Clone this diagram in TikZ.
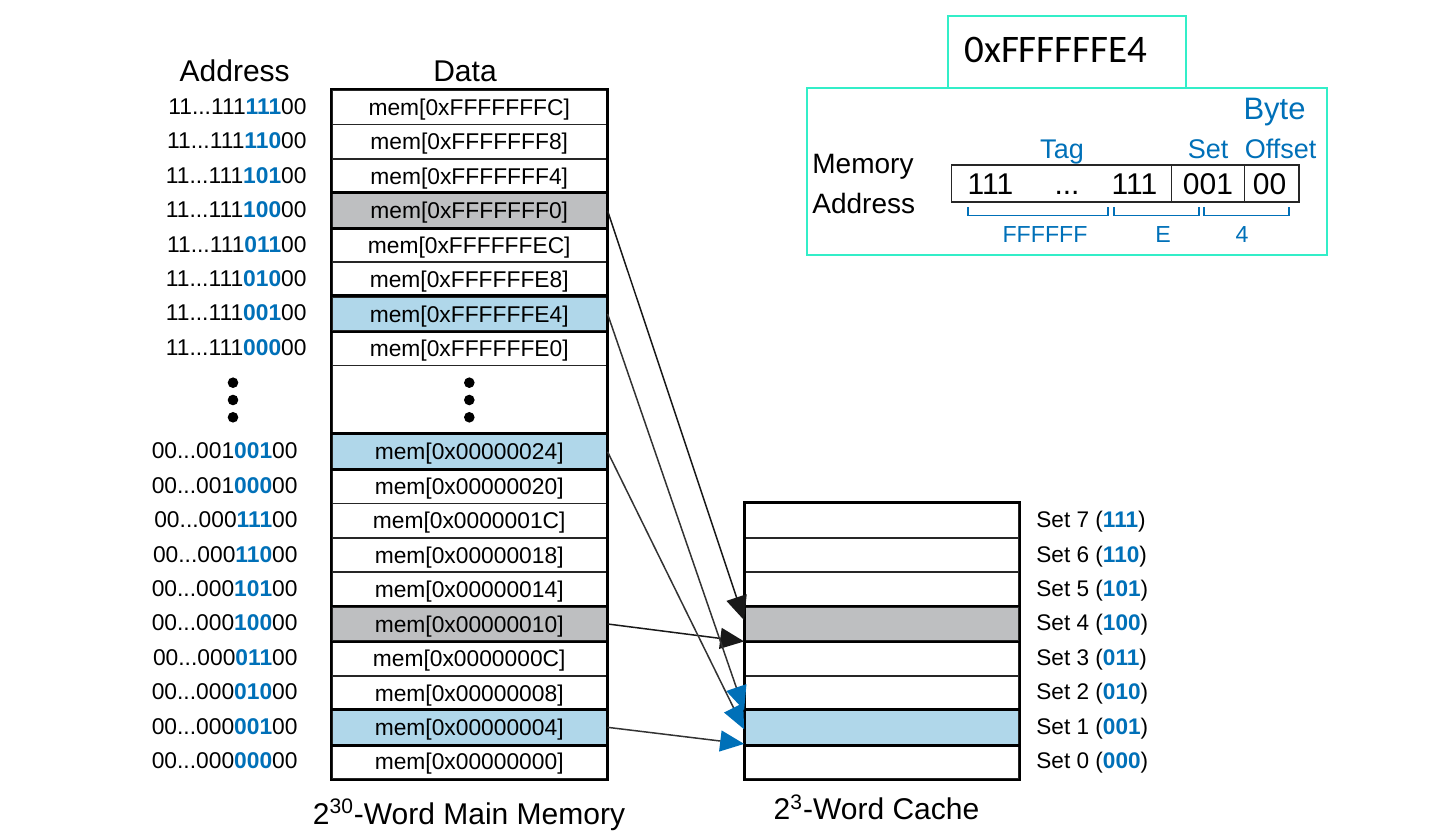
\documentclass[tikz,border=0pt]{standalone}
\usepackage{fontspec}
\setmainfont{Liberation Sans}
\newfontfamily\carlitofont{Carlito}
\usetikzlibrary{arrows.meta,calc}
\definecolor{tblue}{RGB}{0,112,184}
\definecolor{lblue}{RGB}{176,215,234}
\definecolor{lgray}{RGB}{190,191,193}
\definecolor{turq}{RGB}{50,238,200}
\newcommand{\bl}[1]{\textcolor{tblue}{\textbf{#1}}}
\begin{document}
\begin{tikzpicture}[x=0.5pt,y=-0.5pt,
  memrow/.style={draw=black!85, line width=0.85pt, minimum width=137.5pt, minimum height=17.225pt,
    inner sep=0pt, text height=8.2pt, text depth=0pt, font=\fontsize{11.4}{13}\selectfont},
  hirow/.style={line width=1.35pt},
  addr/.style={anchor=base east, inner sep=0pt, font=\fontsize{11.4}{13}\selectfont},
  setlab/.style={anchor=base west, inner sep=0pt, font=\fontsize{11.3}{13}\selectfont},
  head/.style={anchor=base, inner sep=0pt, font=\fontsize{15}{17}\selectfont},
  bits/.style={anchor=base, inner sep=0pt, font=\fontsize{15}{17}\selectfont},
  fieldlab/.style={anchor=base, inner sep=0pt, text=tblue, font=\fontsize{13.5}{15}\selectfont},
  sublab/.style={anchor=base, inner sep=0pt, text=tblue, font=\fontsize{11.6}{13}\selectfont},
  fieldbox/.style={draw=black!85, line width=0.75pt, minimum height=18.5pt, inner sep=0pt},
  tealbox/.style={draw=turq, line width=0.85pt, inner sep=0pt},
  blkarrow/.style={draw=black!90, line width=0.75pt, -{Triangle[length=12pt,width=10.5pt]}},
  bluarrow/.style={draw=black!80, line width=0.75pt, -{Triangle[length=12pt,width=10.5pt,color=tblue]}},
  brk/.style={draw=tblue, line width=0.85pt}
]
\useasboundingbox (0,0) rectangle (1450,833);

% headers
\node[head] (hAddr) at (234.7,81.7) {Address};
\node[head] (hData) at (465,81.7) {Data};

% top half of main memory
\foreach \i/\hx/\b/\f in {0/FFFFFFFC/111/none,1/FFFFFFF8/110/none,2/FFFFFFF4/101/none,3/FFFFFFF0/100/lgray,
  4/FFFFFFEC/011/none,5/FFFFFFE8/010/none,6/FFFFFFE4/001/lblue,7/FFFFFFE0/000/none}{
  \node[memrow, fill=\f] (m\i) at (469.2,{90+(\i+0.5)*34.45}) {mem[0x\hx]};
  \node[addr] (a\i) at (307,{90+(\i+0.5)*34.45+7}) {11...111\bl{\b}00};
}
% dots area
\node[memrow, minimum height=34.45pt] (mdots) at (469.2,{90+9*34.45}) {};
\foreach \yy in {382.7,400,417.3}{
  \fill (233,\yy) circle[radius=2.65pt];
  \fill (469.3,\yy) circle[radius=2.65pt];
}
% bottom half
\foreach \i/\hx/\p/\b/\f in {10/00000024/1/001/lblue,11/00000020/1/000/none,12/0000001C/0/111/none,
  13/00000018/0/110/none,14/00000014/0/101/none,15/00000010/0/100/lgray,16/0000000C/0/011/none,
  17/00000008/0/010/none,18/00000004/0/001/lblue,19/00000000/0/000/none}{
  \node[memrow, fill=\f] (m\i) at (469.2,{90+(\i+0.5)*34.45}) {mem[0x\hx]};
  \node[addr] (a\i) at (298,{90+(\i+0.5)*34.45+7}) {00...00\p\bl{\b}00};
}
% highlighted borders
\foreach \i in {3,6,10,15,18}{
  \draw[hirow] (m\i.north west) rectangle (m\i.south east);
}
\draw[line width=1.35pt] (m0.north west) rectangle (m19.south east);

% cache
\foreach \j/\s/\b/\f in {0/7/111/none,1/6/110/none,2/5/101/none,3/4/100/lgray,
  4/3/011/none,5/2/010/none,6/1/001/lblue,7/0/000/none}{
  \node[memrow, minimum width=137pt, fill=\f] (c\s) at (882,{90+(12+\j+0.5)*34.45}) {};
  \node[setlab] (s\s) at (1036,{90+(12+\j+0.5)*34.45+7}) {Set \s\ (\bl{\b})};
}
\draw[hirow] (c4.north west) rectangle (c4.south east);
\draw[hirow] (c1.north west) rectangle (c1.south east);
\draw[line width=1.35pt] (c7.north west) rectangle (c0.south east);

% arrows
\draw[blkarrow] (m3.east) -- ([yshift=1.85pt]c4.west);
\draw[blkarrow] (m15.east) -- ([yshift=0.3pt]c4.south west);
\draw[bluarrow] (m6.east) -- ([yshift=-0.5pt]c1.north west);
\draw[bluarrow] (m10.east) -- ([yshift=-1pt]c1.west);
\draw[bluarrow] (m18.east) -- ([yshift=0.75pt]c1.south west);

% bottom labels
\node[head] (lMem) at (469,824) {2\textsuperscript{30}-Word Main Memory};
\node[head] (lCache) at (876.5,819.6) {2\textsuperscript{3}-Word Cache};

% address breakdown
\node[tealbox, minimum width=260pt, minimum height=83.5pt] (bigbox) at (1067,171.5) {};
\node[tealbox, minimum width=119pt, minimum height=36pt] (hexbox) at (1067,52) {};
\node[anchor=base west, inner sep=0pt, font=\carlitofont\fontsize{19.5}{21}\selectfont] (hex) at (964,63) {0xFFFFFFE4};

\node[anchor=base west, inner sep=0pt, font=\fontsize{14}{16}\selectfont] (memlab) at (812,174) {Memory};
\node[anchor=base west, inner sep=0pt, font=\fontsize{14}{16}\selectfont] (addrlab) at (812,213.3) {Address};

\node[fieldbox, minimum width=110pt] (tagf) at (1061.7,183.5) {};
\node[fieldbox, minimum width=36.3pt] (setf) at (1208,183.5) {};
\node[fieldbox, minimum width=27.35pt] (offf) at (1271.65,183.5) {};

\node[bits] (b1) at (990.5,194.3) {111};
\node[bits] (b2) at (1067,194.3) {...};
\node[bits] (b3) at (1134.5,194.3) {111};
\node[bits] (b4) at (1208,194.3) {001};
\node[bits] (b5) at (1269.5,194.3) {00};

\node[fieldlab] (ftag) at (1062,159) {Tag};
\node[fieldlab] (fset) at (1208,159) {Set};
\node[fieldlab] (foff) at (1280.5,159) {Offset};
\node[fieldlab, font=\fontsize{15.5}{17}\selectfont] (fbyte) at (1274.5,120) {Byte};

\draw[brk] (968,207) -- (968,215.5) -- (1108,215.5) -- (1108,207);
\draw[brk] (1114,207) -- (1114,215.5) -- (1199,215.5) -- (1199,207);
\draw[brk] (1204,207) -- (1204,215.5) -- (1289,215.5) -- (1289,207);

\node[sublab] (uF) at (1045,243) {FFFFFF};
\node[sublab] (uE) at (1163,243) {E};
\node[sublab] (u4) at (1242,243) {4};
\end{tikzpicture}
\end{document}
